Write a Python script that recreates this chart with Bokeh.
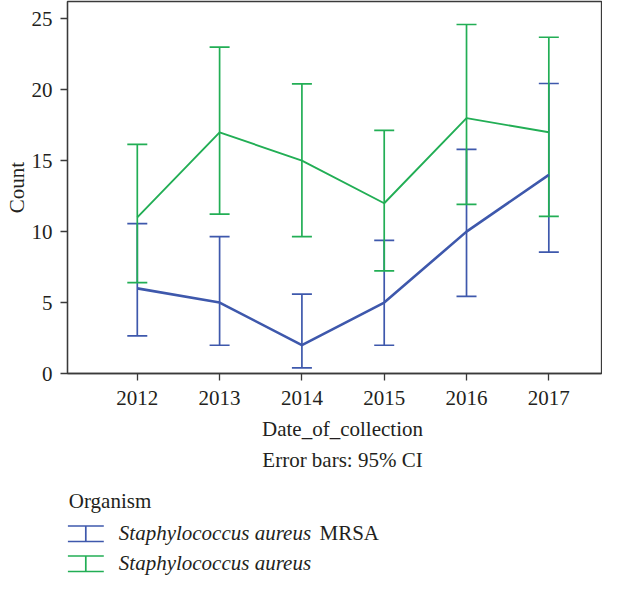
import math
from bokeh.plotting import figure
from bokeh.layouts import column
from bokeh.models import ColumnDataSource, Whisker, TeeHead, FixedTicker, Range1d
from bokeh.core.properties import value
from bokeh.embed import file_html
from bokeh.resources import INLINE

# ---- data ----
years = [2012, 2013, 2014, 2015, 2016, 2017]
mrsa_count = [6, 5, 2, 5, 10, 14]
mrsa_lower = [2.65, 1.99, 0.4, 1.99, 5.44, 8.56]
mrsa_upper = [10.56, 9.65, 5.6, 9.39, 15.8, 20.44]
sa_count = [11, 17, 15, 12, 18, 17]
sa_lower = [6.41, 11.24, 9.65, 7.23, 11.92, 11.08]
sa_upper = [16.15, 23.0, 20.42, 17.13, 24.6, 23.7]
y_ticks = [0, 5, 10, 15, 20, 25]
organism_italic = ["Staphylococcus aureus", "Staphylococcus aureus"]
organism_suffix = ["MRSA", ""]

BLUE = "#3E58AC"
GREEN = "#22AE55"
TXT = "#231f20"
AX = "#3a3a3a"
FONT = "Liberation Serif"

# ---- main chart ----
p = figure(width=602, height=413,
           x_range=Range1d(2011.152, 2017.64), y_range=Range1d(0, 26.22),
           output_backend="svg", toolbar_location=None,
           min_border_left=67, min_border_right=1, min_border_top=1, min_border_bottom=40)
p.background_fill_color = "white"
p.border_fill_color = "white"
p.outline_line_color = AX
p.outline_line_width = 1.3
p.xgrid.grid_line_color = None
p.ygrid.grid_line_color = None

p.xaxis.ticker = FixedTicker(ticks=years)
p.yaxis.ticker = FixedTicker(ticks=y_ticks)
for ax in (p.xaxis[0], p.yaxis[0]):
    ax.major_tick_out = 7
    ax.major_tick_in = 0
    ax.minor_tick_out = 0
    ax.minor_tick_in = 0
    ax.axis_line_color = AX
    ax.axis_line_width = 1.3
    ax.major_tick_line_color = AX
    ax.major_tick_line_width = 1.3
    ax.major_label_text_font = FONT
    ax.major_label_text_font_size = "21px"
    ax.major_label_text_color = TXT
p.yaxis[0].major_label_standoff = 8
p.xaxis[0].major_label_standoff = 10
p.yaxis[0].axis_label = "Count"
p.yaxis[0].axis_label_text_font = FONT
p.yaxis[0].axis_label_text_font_size = "21px"
p.yaxis[0].axis_label_text_font_style = "normal"
p.yaxis[0].axis_label_text_color = TXT
p.yaxis[0].axis_label_standoff = 0

src_m = ColumnDataSource(dict(x=years, y=mrsa_count, lo=mrsa_lower, up=mrsa_upper))
src_s = ColumnDataSource(dict(x=years, y=sa_count, lo=sa_lower, up=sa_upper))

for src, col, lw in ((src_m, BLUE, 2.6), (src_s, GREEN, 1.9)):
    w = Whisker(base="x", lower="lo", upper="up", source=src,
                line_color=col, line_width=1.7,
                upper_head=TeeHead(size=20, line_color=col, line_width=1.7),
                lower_head=TeeHead(size=20, line_color=col, line_width=1.7))
    p.add_layout(w)
    p.line("x", "y", source=src, line_color=col, line_width=lw)

# ---- lower panel: axis title, note and legend (pixel-like coordinates) ----
q = figure(width=602, height=165, x_range=Range1d(67, 601), y_range=Range1d(165, 0),
           output_backend="svg", toolbar_location=None,
           min_border_left=67, min_border_right=1, min_border_top=0, min_border_bottom=0,
           x_axis_type=None, y_axis_type=None)
q.outline_line_color = None
q.background_fill_color = "white"
q.border_fill_color = "white"
q.xgrid.grid_line_color = None
q.ygrid.grid_line_color = None

common = dict(text_font=value(FONT), text_font_size="21px", text_color=TXT,
              text_baseline="alphabetic")
q.text(x=[342, 342], y=[15, 46], text=["Date_of_collection", "Error bars: 95% CI"],
       text_align="center", **common)
q.text(x=[68.3], y=[87.5], text=["Organism"], text_align="left", **common)

# legend icons: I-beam error-bar symbols
for top, bot, col in ((112.5, 128, BLUE), (142.5, 158, GREEN)):
    q.segment(x0=[67.3, 67.3, 85.3], y0=[top, bot, top], x1=[103.3, 103.3, 85.3], y1=[top, bot, bot],
              line_color=col, line_width=1.7)

q.text(x=[118.3, 118.3], y=[119, 149], text=organism_italic, text_align="left",
       text_font_style="italic", **common)
q.text(x=[319], y=[119], text=[organism_suffix[0]], text_align="left", **common)

layout = column(p, q, spacing=0)
open("out.html", "w").write(file_html(layout, INLINE))
